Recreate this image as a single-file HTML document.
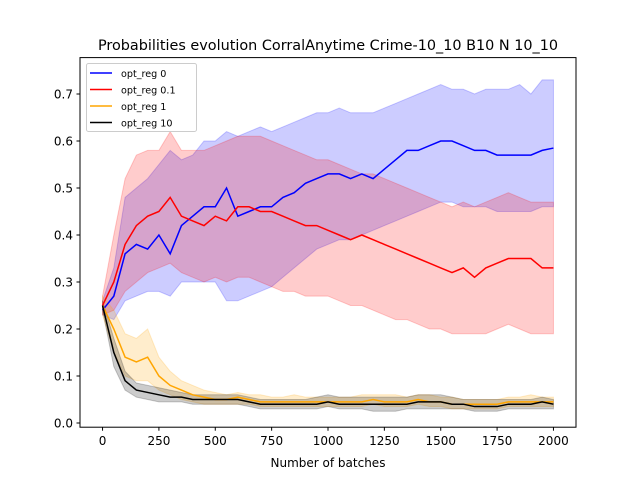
<!DOCTYPE html>
<html><head><meta charset="utf-8"><style>
body{margin:0;background:#fff}
svg{display:block;font-family:"DejaVu Sans","Liberation Sans",sans-serif}
</style></head><body>
<svg id="chart" width="640" height="480">
<rect width="640" height="480" fill="#fff"/>
<text x="328" y="50" font-size="14.4" text-anchor="middle">Probabilities evolution CorralAnytime Crime-10_10 B10 N 10_10</text>
<g id="plot"></g>
<rect x="80" y="57.6" width="496" height="369.6" fill="none" stroke="#000" stroke-width="1"/>
<g id="xt"></g><g id="yt"></g>
<text x="328" y="467" font-size="12" text-anchor="middle">Number of batches</text>
<g>
<rect x="86.5" y="63.5" width="110" height="68" rx="2" fill="#fff" fill-opacity="0.8" stroke="#ccc"/>
<line x1="90" y1="73" x2="112" y2="73" stroke="blue" stroke-width="1.5"/>
<text x="121" y="77" font-size="9.6">opt_reg 0</text>
<line x1="90" y1="89.5" x2="112" y2="89.5" stroke="red" stroke-width="1.5"/>
<text x="121" y="93.5" font-size="9.6">opt_reg 0.1</text>
<line x1="90" y1="106" x2="112" y2="106" stroke="orange" stroke-width="1.5"/>
<text x="121" y="110" font-size="9.6">opt_reg 1</text>
<line x1="90" y1="122.5" x2="112" y2="122.5" stroke="black" stroke-width="1.5"/>
<text x="121" y="126.5" font-size="9.6">opt_reg 10</text>
</g>
</svg>
<script>
const xs=[0,50,100,150,200,250,300,350,400,450,500,550,600,650,700,750,800,850,900,950,1000,1050,1100,1150,1200,1250,1300,1350,1400,1450,1500,1550,1600,1650,1700,1750,1800,1850,1900,1950,2000];
const blueMean=[0.24,0.27,0.36,0.38,0.37,0.40,0.36,0.42,0.44,0.46,0.46,0.50,0.44,0.45,0.46,0.46,0.48,0.49,0.51,0.52,0.53,0.53,0.52,0.53,0.52,0.54,0.56,0.58,0.58,0.59,0.60,0.60,0.59,0.58,0.58,0.57,0.57,0.57,0.57,0.58,0.585];
const blueHi=[0.26,0.33,0.48,0.50,0.52,0.55,0.58,0.56,0.57,0.60,0.60,0.62,0.61,0.62,0.63,0.62,0.63,0.64,0.65,0.66,0.66,0.67,0.66,0.66,0.66,0.67,0.68,0.69,0.70,0.71,0.72,0.71,0.71,0.70,0.71,0.71,0.71,0.72,0.70,0.73,0.73];
const blueLo=[0.23,0.22,0.26,0.27,0.28,0.28,0.27,0.30,0.30,0.30,0.30,0.26,0.26,0.27,0.28,0.29,0.31,0.33,0.35,0.37,0.38,0.39,0.39,0.40,0.41,0.42,0.43,0.44,0.45,0.46,0.47,0.47,0.46,0.46,0.46,0.45,0.45,0.45,0.45,0.46,0.46];
const redMean=[0.25,0.30,0.38,0.42,0.44,0.45,0.48,0.44,0.43,0.42,0.44,0.43,0.46,0.46,0.45,0.45,0.44,0.43,0.42,0.42,0.41,0.40,0.39,0.40,0.39,0.38,0.37,0.36,0.35,0.34,0.33,0.32,0.33,0.31,0.33,0.34,0.35,0.35,0.35,0.33,0.33];
const redHi=[0.27,0.40,0.52,0.57,0.58,0.58,0.62,0.58,0.58,0.58,0.59,0.60,0.61,0.61,0.61,0.60,0.59,0.58,0.57,0.56,0.56,0.55,0.54,0.53,0.53,0.52,0.51,0.50,0.49,0.48,0.47,0.46,0.47,0.46,0.47,0.48,0.49,0.48,0.47,0.47,0.47];
const redLo=[0.23,0.24,0.28,0.30,0.32,0.33,0.34,0.32,0.31,0.30,0.31,0.30,0.31,0.31,0.30,0.29,0.28,0.28,0.27,0.27,0.27,0.26,0.25,0.25,0.24,0.23,0.22,0.22,0.21,0.20,0.20,0.19,0.19,0.19,0.19,0.20,0.21,0.20,0.19,0.19,0.19];
const orMean=[0.25,0.20,0.14,0.13,0.14,0.10,0.08,0.07,0.06,0.055,0.05,0.05,0.055,0.05,0.045,0.045,0.045,0.045,0.045,0.045,0.045,0.045,0.045,0.045,0.05,0.045,0.045,0.045,0.05,0.045,0.045,0.04,0.04,0.04,0.04,0.04,0.045,0.045,0.045,0.045,0.045];
const orHi=[0.27,0.24,0.19,0.18,0.20,0.14,0.11,0.09,0.08,0.07,0.065,0.06,0.065,0.06,0.06,0.055,0.055,0.06,0.055,0.055,0.055,0.055,0.055,0.06,0.06,0.06,0.06,0.055,0.06,0.06,0.055,0.055,0.05,0.05,0.05,0.05,0.055,0.055,0.06,0.055,0.055];
const orLo=[0.23,0.15,0.10,0.09,0.09,0.07,0.06,0.05,0.045,0.04,0.04,0.04,0.04,0.04,0.035,0.035,0.035,0.035,0.035,0.035,0.035,0.035,0.035,0.035,0.04,0.035,0.035,0.035,0.04,0.035,0.035,0.03,0.03,0.03,0.03,0.03,0.035,0.035,0.035,0.035,0.035];
const bkMean=[0.25,0.15,0.09,0.07,0.065,0.06,0.055,0.055,0.05,0.05,0.05,0.05,0.05,0.045,0.04,0.04,0.04,0.04,0.04,0.04,0.045,0.04,0.04,0.04,0.04,0.04,0.04,0.04,0.045,0.045,0.045,0.04,0.04,0.035,0.035,0.035,0.04,0.04,0.04,0.045,0.04];
const bkHi=[0.26,0.18,0.11,0.085,0.08,0.075,0.07,0.065,0.06,0.06,0.06,0.06,0.06,0.055,0.05,0.05,0.05,0.05,0.05,0.055,0.06,0.055,0.055,0.055,0.055,0.055,0.055,0.055,0.06,0.06,0.06,0.055,0.05,0.05,0.05,0.05,0.05,0.05,0.05,0.055,0.05];
const bkLo=[0.24,0.12,0.07,0.055,0.05,0.045,0.045,0.045,0.04,0.04,0.04,0.04,0.04,0.035,0.03,0.03,0.03,0.03,0.03,0.03,0.035,0.03,0.03,0.03,0.025,0.025,0.025,0.03,0.03,0.03,0.03,0.03,0.03,0.025,0.025,0.025,0.03,0.03,0.03,0.03,0.03];
const xTicks=[0,250,500,750,1000,1250,1500,1750,2000];
const yTicks=[0,0.1,0.2,0.3,0.4,0.5,0.6,0.7];
const yTickLabels=["0.0","0.1","0.2","0.3","0.4","0.5","0.6","0.7"];

const NS="http://www.w3.org/2000/svg";
function X(v){return 80+496*(v+100)/2200;}
function Y(v){return 423-v*470;}
const plot=document.getElementById('plot');
function band(lo,hi,color,name){
  let d="M"+xs.map((x,i)=>X(x)+","+Y(hi[i])).join("L");
  for(let i=xs.length-1;i>=0;i--)d+="L"+X(xs[i])+","+Y(lo[i]);
  const p=document.createElementNS(NS,'path');
  p.setAttribute('d',d+"Z");p.setAttribute('fill',color);p.setAttribute('fill-opacity','0.2');p.setAttribute('stroke',color);p.setAttribute('stroke-opacity','0.2');
  
  
  plot.appendChild(p);
}
function line(m,color,name){
  const p=document.createElementNS(NS,'path');
  p.setAttribute('d',"M"+xs.map((x,i)=>X(x)+","+Y(m[i])).join("L"));
  p.setAttribute('fill','none');p.setAttribute('stroke',color);p.setAttribute('stroke-width','1.5');
  
  
  plot.appendChild(p);
}
band(blueLo,blueHi,'blue','band-opt-reg-0');
band(redLo,redHi,'red','band-opt-reg-0.1');
band(orLo,orHi,'orange','band-opt-reg-1');
band(bkLo,bkHi,'black','band-opt-reg-10');
line(blueMean,'blue','line-opt-reg-0');
line(redMean,'red','line-opt-reg-0.1');
line(orMean,'orange','line-opt-reg-1');
line(bkMean,'black','line-opt-reg-10');
const xt=document.getElementById('xt');
xTicks.forEach(v=>{
  const l=document.createElementNS(NS,'line');
  l.setAttribute('x1',X(v));l.setAttribute('x2',X(v));l.setAttribute('y1',427.2);l.setAttribute('y2',430.7);l.setAttribute('stroke','#000');
  
  
  xt.appendChild(l);
  const t=document.createElementNS(NS,'text');
  t.setAttribute('x',X(v));t.setAttribute('y',445);t.setAttribute('font-size','12');t.setAttribute('text-anchor','middle');t.textContent=v;
  
  
  xt.appendChild(t);
});
const yt=document.getElementById('yt');
yTicks.forEach((v,i)=>{
  const l=document.createElementNS(NS,'line');
  l.setAttribute('x1',76.5);l.setAttribute('x2',80);l.setAttribute('y1',Y(v));l.setAttribute('y2',Y(v));l.setAttribute('stroke','#000');
  
  
  yt.appendChild(l);
  const t=document.createElementNS(NS,'text');
  t.setAttribute('x',73);t.setAttribute('y',Y(v)+4.5);t.setAttribute('font-size','12');t.setAttribute('text-anchor','end');t.textContent=yTickLabels[i];
  
  
  yt.appendChild(t);
});
</script>
</body></html>
